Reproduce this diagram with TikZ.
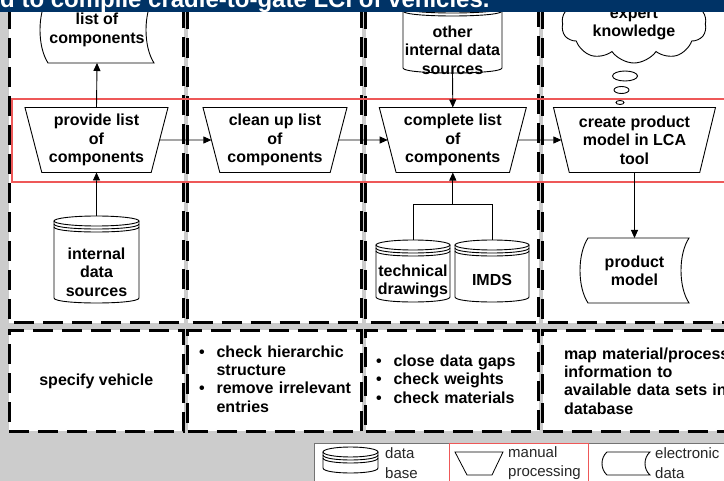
\documentclass[tikz,border=0pt]{standalone}
\usepackage{fontspec}
\setmainfont{Liberation Sans}
\usetikzlibrary{shapes.geometric,shapes.symbols,arrows.meta,calc}

\definecolor{titleblue}{HTML}{003366}
\definecolor{slidegray}{RGB}{204,204,204}
\definecolor{lanered}{RGB}{238,88,88}

\newcommand\boxfont{\fontsize{16}{18.4}\selectfont\bfseries}
\newcommand\legfont{\fontsize{15}{19.5}\selectfont}
\newcommand\titlefont{\fontsize{24}{28}\selectfont\bfseries}

\tikzset{
  outline/.style={draw=black, line width=0.9pt},
  cylbox/.style={draw=none, inner sep=0pt, outer sep=0pt},
  docnode/.style={draw=none, inner sep=0pt, outer sep=0pt, align=center, font=\boxfont},
  manual/.style={trapezium, shape border rotate=180, trapezium left angle=72,
    trapezium right angle=72, trapezium stretches body, draw=black, line width=0.9pt,
    fill=white, minimum height=65pt, inner sep=0pt, outer sep=0pt, align=center, font=\boxfont},
  thought/.style={cloud, cloud puffs=10, cloud puff arc=110, cloud ignores aspect,
    draw=black, line width=0.9pt, fill=white, minimum width=145pt, minimum height=78pt,
    inner sep=0pt, align=center, font=\boxfont},
  lbl/.style={inner sep=0pt, align=center, font=\boxfont},
  lane/.style={fill=white, draw=black, line width=3pt, dash pattern=on 20pt off 9pt},
  taskbox/.style={lane, minimum height=101pt, inner ysep=0pt, outer sep=0pt, font=\boxfont},
  rowline/.style={draw=lanered, line width=1.2pt},
  flow/.style={draw=black, line width=0.9pt, -{Triangle[length=8pt,width=7pt]}},
  conn/.style={draw=black, line width=0.9pt},
  legtext/.style={anchor=west, inner sep=0pt, align=left, font=\legfont, text=black!85},
}

% data base symbol: cylinder with stacked discs on top
% #1 name, #2 centre x, #3 top, #4 bottom, #5 half width
\newcommand\dbshape[5]{%
  \node[cylbox, minimum width={2*#5}, minimum height={#4-#3}] (#1) at (#2,{(#3+#4)/2}) {};
  \draw[outline] (#2,{#3+5}) ellipse [x radius=#5pt, y radius=5pt];
  \draw[outline] ({#2-#5},{#3+5}) -- ({#2-#5},{#4-5})
     .. controls ({#2-#5},{#4+5/3}) and ({#2+#5},{#4+5/3}) .. ({#2+#5},{#4-5})
     -- ({#2+#5},{#3+5});
  \foreach \k in {3,6}
    \draw[outline] ({#2-#5},{#3+5+\k}) .. controls ({#2-#5},{#3+5+\k+20/3})
       and ({#2+#5},{#3+5+\k+20/3}) .. ({#2+#5},{#3+5+\k});
}

% stored data symbol: both sides curved like an opening bracket
% #1 node name, #2 bulge of the sides
\newcommand\docoutline[2]{%
  \draw[outline] (#1.north east) -- ($(#1.north west)+(#2,0)$)
    .. controls ($(#1.north west)!0.25!(#1.south west)+({-#2/3},0)$)
           and ($(#1.north west)!0.75!(#1.south west)+({-#2/3},0)$)
    .. ($(#1.south west)+(#2,0)$) -- (#1.south east)
    .. controls ($(#1.north east)!0.75!(#1.south east)+({-4*#2/3},0)$)
           and ($(#1.north east)!0.25!(#1.south east)+({-4*#2/3},0)$)
    .. (#1.north east) -- cycle;
}

\begin{document}
\begin{tikzpicture}[x=1pt, y=-1pt]
\useasboundingbox (0,0) rectangle (724,481);
\clip (0,0) rectangle (724,481);

% slide background
\fill[slidegray] (0,0) rectangle (724,481);

% swim lanes
\path[lane] (9,-20) rectangle (183.5,323);
\path[lane] (187.5,-20) rectangle (361.5,323);
\path[lane] (365.5,-20) rectangle (538.5,323);
\path[lane] (542.5,-20) rectangle (770,323);

% row of processing steps
\draw[rowline] (12,99) rectangle (770,182);

% processing steps
\node[manual, minimum width=143pt] (pl) at (96.5,140) {provide list\\of\\components};
\node[manual, minimum width=144pt] (cu) at (275,140) {clean up list\\of\\components};
\node[manual, minimum width=147pt] (cl) at (452.8,140) {complete list\\of\\components};
\node[manual, minimum width=162pt] (cp) at (634.5,140) {create product\\model in LCA\\tool};

% electronic data
\node[docnode, minimum width=114pt, minimum height=66pt] (lc) at (97,30) {list of\\components};
\docoutline{lc}{8}
\node[docnode, minimum width=109pt, minimum height=65pt] (pm) at (634.5,270.5) {product\\model};
\docoutline{pm}{8}

% data bases
\dbshape{ids}{96.5}{216}{303}{42.5}
\node[lbl] (ids-t) at (96.5,272) {internal\\data\\sources};
\dbshape{oid}{452.5}{0}{73}{49.5}
\node[lbl] (oid-t) at (452.5,50) {other\\internal data\\sources};
\dbshape{td}{413}{240}{302}{37}
\node[lbl] (td-t) at (413,281.5) {technical\\drawings};
\dbshape{imds}{492}{240}{302}{37}
\node[lbl] (imds-t) at (492,280) {IMDS};

% expert knowledge
\node[thought] (ek) at (634,24) {expert\\knowledge};
\draw[outline] (625,76) ellipse [x radius=12.5pt, y radius=5pt];
\draw[outline] (621.5,90) ellipse [x radius=7.5pt, y radius=3.5pt];
\draw[outline] (620,102.5) ellipse [x radius=4pt, y radius=2pt];

% flow of information
\draw[flow] (pl.east) -- (cu.west);
\draw[flow] (cu.east) -- (cl.west);
\draw[flow] (cl.east) -- (cp.west);
\draw[flow] (pl.north) -- (lc.south);
\draw[flow] (ids.north) -- (pl.south);
\draw[flow] (oid.south) -- (cl.north);
\coordinate (jn) at ($(cl.south)+(0,32)$);
\draw[conn] (td.north) |- (jn) -| (imds.north);
\draw[flow] (jn) -- (cl.south);
\draw[flow] (cp.south) -- (pm.north);

% activities of each step
\node[taskbox, minimum width=174.5pt] (sv) at (96.25,381) {specify vehicle};
\node[taskbox, minimum width=174pt, text width=151pt, inner xsep=11.5pt, align=left] (ch) at (274.5,381)
  {\begin{tabular}{@{}l@{\hspace{12pt}}l@{}}
   \textbullet & check hierarchic\\
               & structure\\
   \textbullet & remove irrelevant\\
               & entries
   \end{tabular}};
\node[taskbox, minimum width=173pt, text width=152pt, inner xsep=10.5pt, align=left] (cg) at (452,381)
  {\begin{tabular}{@{}l@{\hspace{12pt}}l@{}}
   \textbullet & close data gaps\\
   \textbullet & check weights\\
   \textbullet & check materials
   \end{tabular}};
\node[taskbox, minimum width=217.5pt, text width=174.5pt, inner xsep=21.5pt, align=left] (mm) at (651.25,381)
  {map material/process\\information to\\available data sets in\\database};

% legend
\path[fill=white, draw=black!55, line width=0.8pt] (314,443) rectangle (770,500);
\draw[draw=lanered, line width=0.8pt] (449,443) rectangle (588,500);
\dbshape{lgdb}{350.5}{447}{473}{27.5}
\node[legtext] (lgdb-t) at (385,463) {data\\base};
\draw[outline, line width=0.8pt] (455,452) -- (503,452) -- (492,475) -- (467,475) -- cycle;
\node[legtext] (lgm-t) at (508,463) {manual\\processing};
\node[docnode, minimum width=48pt, minimum height=23pt] (lge) at (626,463.5) {};
\docoutline{lge}{5}
\node[legtext] (lge-t) at (655,463) {electronic\\data};

% title bar
\fill[titleblue] (0,-20) rectangle (770,11.7);
\node[anchor=base west, inner sep=0pt, text=white, font=\titlefont] (title) at (0,7.5)
  {d to compile cradle-to-gate LCI of vehicles.};
\end{tikzpicture}
\end{document}
